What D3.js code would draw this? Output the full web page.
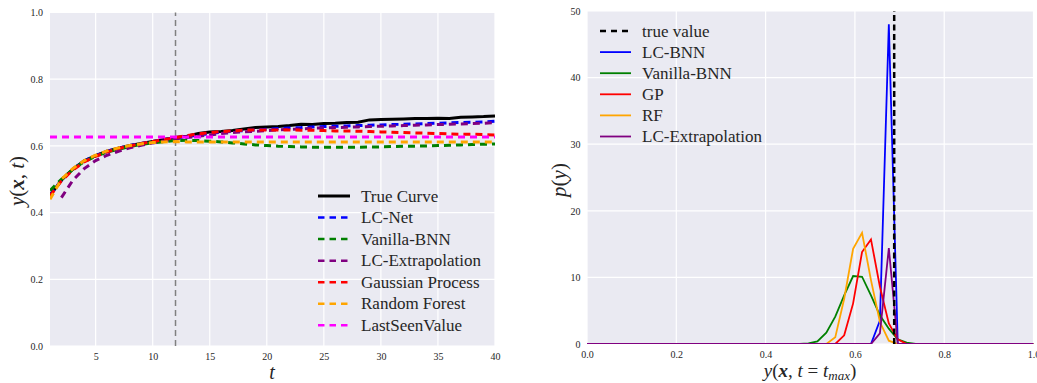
<!DOCTYPE html>
<html>
<head>
<meta charset="utf-8">
<script src="https://d3js.org/d3.v7.min.js"></script>
<style>
  body { margin: 0; background: #fff; }
  text { font-family: "Liberation Serif", "DejaVu Serif", serif; fill: #262626; }
</style>
</head>
<body>
<svg width="1037" height="383"></svg>
<script>
// ---- left panel: learning curves ----
var steps = [1,2,3,4,5,6,7,8,9,10,11,12,13,14,15,16,17,18,19,20,
             21,22,23,24,25,26,27,28,29,30,31,32,33,34,35,36,37,38,39,40];
var trueCurve = [0.452,0.497,0.530,0.555,0.571,0.584,0.593,0.601,0.607,0.613,0.619,0.625,0.629,0.637,0.642,0.643,0.646,0.651,0.655,0.657,
                 0.658,0.661,0.665,0.664,0.667,0.668,0.670,0.671,0.678,0.679,0.680,0.681,0.682,0.682,0.683,0.682,0.686,0.687,0.688,0.690];
var lcNet = [0.452,0.497,0.530,0.555,0.571,0.584,0.593,0.601,0.607,0.613,0.619,0.625,0.628,0.633,0.637,0.641,0.644,0.646,0.648,0.650,
             0.652,0.654,0.655,0.657,0.658,0.659,0.660,0.661,0.662,0.663,0.664,0.665,0.666,0.667,0.668,0.669,0.670,0.671,0.672,0.674];
var vanillaBnn = [0.466,0.500,0.530,0.553,0.569,0.581,0.590,0.598,0.604,0.609,0.613,0.616,0.617,0.616,0.614,0.612,0.609,0.606,0.603,0.601,
                  0.599,0.598,0.597,0.596,0.596,0.596,0.596,0.596,0.597,0.597,0.598,0.599,0.599,0.600,0.601,0.602,0.603,0.604,0.605,0.606];
var lcExtrap = [null,0.445,0.497,0.532,0.556,0.572,0.584,0.594,0.602,0.609,0.615,0.621,0.625,0.629,0.633,0.637,0.640,0.642,0.644,0.646,
                0.648,0.650,0.651,0.653,0.654,0.655,0.656,0.657,0.658,0.659,0.660,0.661,0.662,0.663,0.664,0.665,0.666,0.667,0.668,0.670];
var gaussProc = [0.450,0.495,0.528,0.552,0.569,0.582,0.592,0.600,0.607,0.613,0.619,0.625,0.631,0.636,0.640,0.643,0.645,0.647,0.648,0.648,
                 0.648,0.648,0.647,0.647,0.646,0.645,0.645,0.644,0.643,0.642,0.641,0.640,0.639,0.638,0.637,0.636,0.635,0.635,0.634,0.633];
var randForest = [0.440,0.500,0.532,0.556,0.572,0.585,0.594,0.601,0.606,0.610,0.612,0.613,0.612,0.612,0.612,0.612,0.612,0.612,0.612,0.612,
                  0.612,0.612,0.612,0.612,0.612,0.612,0.612,0.612,0.612,0.612,0.612,0.612,0.612,0.612,0.612,0.612,0.612,0.612,0.612,0.612];
var lastSeen = [0.627,0.627,0.627,0.627,0.627,0.627,0.627,0.627,0.627,0.627,0.627,0.627,0.627,0.627,0.627,0.627,0.627,0.627,0.627,0.627,
                0.627,0.627,0.627,0.627,0.627,0.627,0.627,0.627,0.627,0.627,0.627,0.627,0.627,0.627,0.627,0.627,0.627,0.627,0.627,0.627];
var cutStep = 12;
var leftXTicks = [5,10,15,20,25,30,35,40];
var leftYTicks = [0.0,0.2,0.4,0.6,0.8,1.0];

// ---- right panel: predictive densities at t_max ----
var bins = [0.0,0.476,0.496,0.516,0.536,0.556,0.576,0.596,0.616,0.636,0.656,0.676,0.696,0.716,0.736,1.0];
var pLcBnn   = [0,0,0,0,0,0,0,0,0,0,3.5,48,0,0,0,0];
var pVanilla = [0,0,0.1,0.4,1.7,4.1,7.3,10.2,10.1,7.3,4.3,2.3,0.7,0.2,0,0];
var pGp      = [0,0,0,0,0,0,1.3,6.1,13.8,15.7,8.6,3.1,0.7,0,0,0];
var pRf      = [0,0,0,0,0,1.0,6.8,14.3,16.7,9.6,3.3,0.5,0,0,0,0];
var pLcExtra = [0,0,0,0,0,0,0,0,0,0,1.6,14.4,0,0,0,0];
var trueValue = 0.688;
var rightXTicks = [0.0,0.2,0.4,0.6,0.8,1.0];
var rightYTicks = [0,10,20,30,40,50];

var svg = d3.select("svg");
var bg = "#eaeaf2";

function panel(x0, x1, y0, y1, xDom, yDom, id) {
    var xs = d3.scaleLinear().domain(xDom).range([x0, x1]);
    var ys = d3.scaleLinear().domain(yDom).range([y1, y0]);
    var g = svg.append("g");
    g.append("rect").attr("x", x0).attr("y", y0)
     .attr("width", x1 - x0).attr("height", y1 - y0).attr("fill", bg);
    svg.append("clipPath").attr("id", id)
       .append("rect").attr("x", x0).attr("y", y0)
       .attr("width", x1 - x0).attr("height", y1 - y0);
    return {x: xs, y: ys, g: g, clip: "url(#" + id + ")"};
}

function grid(p, xt, yt) {
    p.g.selectAll(".gx").data(xt).enter().append("line")
     .attr("x1", d => p.x(d)).attr("x2", d => p.x(d))
     .attr("y1", p.y.range()[0]).attr("y2", p.y.range()[1])
     .attr("stroke", "#fff").attr("stroke-width", 1.2);
    p.g.selectAll(".gy").data(yt).enter().append("line")
     .attr("y1", d => p.y(d)).attr("y2", d => p.y(d))
     .attr("x1", p.x.range()[0]).attr("x2", p.x.range()[1])
     .attr("stroke", "#fff").attr("stroke-width", 1.2);
}

function axes(p, xt, yt, fx, fy, padX, padY) {
    p.g.append("g")
     .attr("transform", "translate(0," + p.y.range()[0] + ")")
     .call(d3.axisBottom(p.x).tickValues(xt).tickFormat(fx).tickSize(0).tickPadding(padX))
     .call(a => a.select(".domain").remove());
    p.g.append("g")
     .attr("transform", "translate(" + p.x.range()[0] + ",0)")
     .call(d3.axisLeft(p.y).tickValues(yt).tickFormat(fy).tickSize(0).tickPadding(padY))
     .call(a => a.select(".domain").remove());
    p.g.selectAll(".tick text")
     .attr("font-family", "'Liberation Serif', serif")
     .attr("font-size", "10px").attr("fill", "#444");
}

// left panel
var L = panel(50, 495, 12.5, 346, [1, 40], [0, 1], "clipL");
grid(L, leftXTicks, leftYTicks);
axes(L, leftXTicks, leftYTicks, d3.format("d"), d3.format(".1f"), 7, 7);

L.g.append("line")
   .attr("x1", L.x(cutStep)).attr("x2", L.x(cutStep))
   .attr("y1", L.y(0)).attr("y2", L.y(1))
   .attr("stroke", "#808080").attr("stroke-width", 1.5)
   .attr("stroke-dasharray", "6,4");

var leftSeries = [
    {name: "True Curve", vals: trueCurve, color: "#000000", dash: null},
    {name: "LC-Net", vals: lcNet, color: "#0000ff", dash: "7,5"},
    {name: "Vanilla-BNN", vals: vanillaBnn, color: "#008000", dash: "7,5"},
    {name: "LC-Extrapolation", vals: lcExtrap, color: "#800080", dash: "7,5"},
    {name: "Gaussian Process", vals: gaussProc, color: "#ff0000", dash: "7,5"},
    {name: "Random Forest", vals: randForest, color: "#ffa500", dash: "7,5"},
    {name: "LastSeenValue", vals: lastSeen, color: "#ff00ff", dash: "7,5"}
];

var lineL = d3.line()
    .defined(d => d[1] != null)
    .x(d => L.x(d[0])).y(d => L.y(d[1]));

leftSeries.forEach(function(s) {
    L.g.append("path")
       .datum(steps.map((t, i) => [t, s.vals[i]]))
       .attr("d", lineL)
       .attr("clip-path", L.clip)
       .attr("fill", "none")
       .attr("stroke", s.color)
       .attr("stroke-width", 3)
       .attr("stroke-dasharray", s.dash);
});

// left legend
var legL = svg.append("g").attr("transform", "translate(318,196)");
leftSeries.forEach(function(s, i) {
    var row = legL.append("g").attr("transform", "translate(0," + (i * 21.55) + ")");
    row.append("line").attr("x1", 0).attr("x2", 32)
       .attr("stroke", s.color)
       .attr("stroke-width", s.dash ? 2.5 : 3)
       .attr("stroke-dasharray", s.dash ? "6.5,5" : null);
    row.append("text").attr("x", 43).attr("y", 5.5)
       .attr("font-size", "17px").text(s.name);
});

// left axis labels
var yl = svg.append("text")
    .attr("transform", "translate(24,181) rotate(-90)")
    .attr("text-anchor", "middle").attr("font-size", "21px");
yl.append("tspan").attr("font-style", "italic").text("y");
yl.append("tspan").text("(");
yl.append("tspan").attr("font-style", "italic").attr("font-weight", "bold").text("x");
yl.append("tspan").text(", ");
yl.append("tspan").attr("font-style", "italic").text("t");
yl.append("tspan").text(")");

svg.append("text").attr("x", 272).attr("y", 379)
   .attr("text-anchor", "middle").attr("font-size", "20px")
   .attr("font-style", "italic").text("t");

// right panel
var R = panel(587, 1033.5, 11, 344, [0, 1], [0, 50], "clipR");
grid(R, rightXTicks, rightYTicks);
axes(R, rightXTicks, rightYTicks, d3.format(".1f"), d3.format("d"), 7, 6.5);

var rightSeries = [
    {name: "LC-BNN", vals: pLcBnn, color: "#0000ff"},
    {name: "Vanilla-BNN", vals: pVanilla, color: "#008000"},
    {name: "GP", vals: pGp, color: "#ff0000"},
    {name: "RF", vals: pRf, color: "#ffa500"},
    {name: "LC-Extrapolation", vals: pLcExtra, color: "#800080"}
];

var lineR = d3.line().x(d => R.x(d[0])).y(d => R.y(d[1]));

rightSeries.forEach(function(s) {
    R.g.append("path")
       .datum(bins.map((b, i) => [b, s.vals[i]]))
       .attr("d", lineR)
       .attr("clip-path", R.clip)
       .attr("fill", "none")
       .attr("stroke", s.color)
       .attr("stroke-width", 1.8);
});

R.g.append("line")
   .attr("x1", R.x(trueValue)).attr("x2", R.x(trueValue))
   .attr("y1", R.y(0)).attr("y2", R.y(50))
   .attr("stroke", "#000").attr("stroke-width", 2.5)
   .attr("stroke-dasharray", "6,3.5");

// right legend
var legR = svg.append("g").attr("transform", "translate(600,31)");
var legRItems = [{name: "true value", color: "#000", dash: "6,5"}].concat(rightSeries);
legRItems.forEach(function(s, i) {
    var row = legR.append("g").attr("transform", "translate(0," + (i * 21.1) + ")");
    row.append("line").attr("x1", 0).attr("x2", 31)
       .attr("stroke", s.color)
       .attr("stroke-width", s.dash ? 2.5 : 1.8)
       .attr("stroke-dasharray", s.dash || null);
    row.append("text").attr("x", 42).attr("y", 5.5)
       .attr("font-size", "17px").text(s.name);
});

// right axis labels
var pl = svg.append("text")
    .attr("transform", "translate(566,180) rotate(-90)")
    .attr("text-anchor", "middle").attr("font-size", "21px");
pl.append("tspan").attr("font-style", "italic").text("p");
pl.append("tspan").text("(");
pl.append("tspan").attr("font-style", "italic").text("y");
pl.append("tspan").text(")");

var xl = svg.append("text").attr("x", 810).attr("y", 377)
    .attr("text-anchor", "middle").attr("font-size", "19px");
xl.append("tspan").attr("font-style", "italic").text("y");
xl.append("tspan").text("(");
xl.append("tspan").attr("font-style", "italic").attr("font-weight", "bold").text("x");
xl.append("tspan").text(", ");
xl.append("tspan").attr("font-style", "italic").text("t");
xl.append("tspan").text(" = ");
xl.append("tspan").attr("font-style", "italic").text("t");
xl.append("tspan").attr("font-style", "italic").attr("font-size", "13px").attr("dy", 2.5).text("max");
xl.append("tspan").attr("dy", -2.5).text(")");
</script>
</body>
</html>
